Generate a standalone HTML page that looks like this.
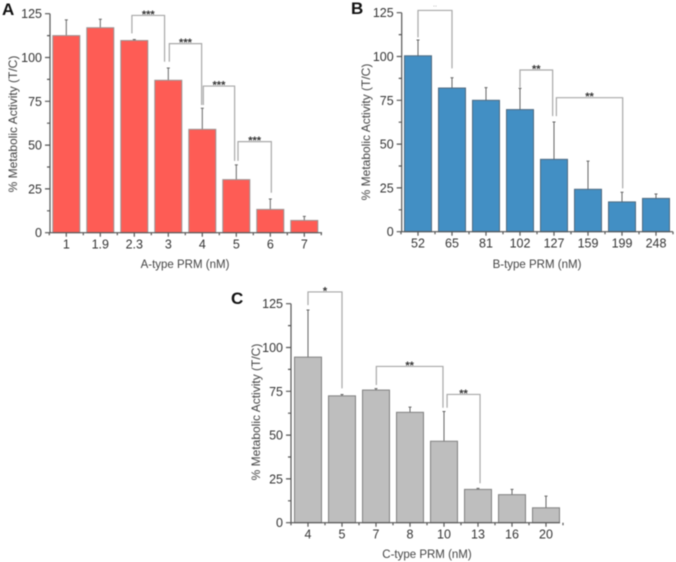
<!DOCTYPE html>
<html>
<head>
<meta charset="utf-8">
<title>Metabolic activity by PRM concentration</title>
<style>
html,body{margin:0;padding:0;background:#fff;width:676px;height:562px;overflow:hidden}
svg{display:block;font-family:"Liberation Sans",sans-serif}
</style>
</head>
<body>
<svg id="figure" width="676" height="562" viewBox="0 0 676 562" xmlns="http://www.w3.org/2000/svg"></svg>
<script>
const aCategories = ['1','1.9','2.3','3','4','5','6','7'];
const aValues = [112.5,117,109.7,87,59,30.3,13.3,7];
const aErrorTops = [121.5,121.8,110.3,94,71,38.7,19.2,9.3];
const aBracketFrom = [1.93,3.03,4.03,5.05];
const aBracketTo = [2.89,3.98,4.95,6.03];
const aBracketTop = [124,107.9,83.7,52];
const aBracketLeftEnd = [113.8,97.6,72.9,41];
const aBracketRightEnd = [97.6,72.9,41,22.8];
const aBracketLabels = ['***','***','***','***'];

const bCategories = ['52','65','81','102','127','159','199','248'];
const bValues = [100.4,82,75,69.7,41.3,24.2,17,19];
const bErrorTops = [109.4,87.9,82.2,81.8,62.6,40.3,22.5,21.5];
const bBracketFrom = [0,3,4.07];
const bBracketTo = [1,3.96,6.02];
const bBracketTop = [126.3,92.3,76.5];
const bBracketLeftEnd = [110.9,82.4,66];
const bBracketRightEnd = [93.2,66,24.7];
const bBracketLabels = ['..','**','**'];

const cCategories = ['4','5','7','8','10','13','16','20'];
const cValues = [94.5,72.4,75.7,63,46.5,19,16,8.5];
const cErrorTops = [121.4,73.2,76.5,66,63.5,19.6,19,15.2];
const cBracketFrom = [0,2.01,4.09];
const cBracketTo = [1,3.97,5.06];
const cBracketTop = [131.7,89.2,73.2];
const cBracketLeftEnd = [124.2,78.6,65.6];
const cBracketRightEnd = [76.7,65.6,22.5];
const cBracketLabels = ['*','**','**'];

const yTicks = [0,25,50,75,100,125];
const yMinorTicks = [12.5,37.5,62.5,87.5,112.5];

const NS = 'http://www.w3.org/2000/svg';
const fig = document.getElementById('figure');

function mk(parent, tag, attrs, text) {
  const el = document.createElementNS(NS, tag);
  for (const k in attrs) el.setAttribute(k, attrs[k]);
  if (text !== undefined) el.textContent = text;
  parent.appendChild(el);
  return el;
}

function drawPanel(p) {
  const g = mk(fig, 'g', {});
  
  
  const sy = v => p.y0 - v * (p.y0 - p.y125) / 125;
  const sx = i => p.x1 + i * 34;

  const letter = mk(g, 'text', {x: p.lx, y: p.ly, 'font-size': 17, 'font-weight': 'bold', fill: '#111'}, p.id);
  
  

  p.values.forEach((v, i) => {
    const top = sy(v);
    const err = mk(g, 'path', {d: `M${sx(i)} ${top}V${sy(p.tops[i])}M${sx(i)-1.5} ${sy(p.tops[i])}H${sx(i)+1.5}`, stroke: '#666', 'stroke-width': 1, fill: 'none'});
    
    
    const bar = mk(g, 'rect', {x: sx(i) - 13.5, y: top, width: 27, height: p.y0 - top, fill: p.color, stroke: p.edge, 'stroke-width': 1});
    
    
    const lab = mk(g, 'text', {x: sx(i), y: p.y0 + 16, 'font-size': 12.5, 'text-anchor': 'middle', fill: '#333'}, p.cats[i]);
    
    
  });

  let ax = `M${p.x0} ${p.y125}V${p.y0}H${p.xEnd}`;
  yTicks.forEach(t => { ax += `M${p.x0-5} ${sy(t)}H${p.x0}`; });
  yMinorTicks.forEach(t => { ax += `M${p.x0-3} ${sy(t)}H${p.x0}`; });
  p.cats.forEach((c, i) => {
    ax += `M${sx(i)} ${p.y0}v4`;
    ax += `M${sx(i)+17} ${p.y0}v2.5`;
  });
  ax += `M${sx(0)-17} ${p.y0}v2.5`;
  const axes = mk(g, 'path', {d: ax, stroke: '#555', 'stroke-width': 1.2, fill: 'none'});
  
  

  yTicks.forEach(t => {
    const lab = mk(g, 'text', {x: p.x0 - 8, y: sy(t) + 4.5, 'font-size': 12.5, 'text-anchor': 'end', fill: '#333'}, String(t));
    
    
  });

  const xt = mk(g, 'text', {x: p.xtx, y: p.xty, 'font-size': 11.5, 'text-anchor': 'middle', fill: '#444'}, p.xTitle);
  
  
  const yt = mk(g, 'text', {x: 0, y: 0, 'font-size': 12, 'text-anchor': 'middle', fill: '#444', transform: `translate(${p.ytx} ${p.yty}) rotate(-90)`}, '% Metabolic Activity (T/C)');
  
  

  p.bFrom.forEach((f, i) => {
    const x1 = sx(f), x2 = sx(p.bTo[i]), t = sy(p.bTop[i]);
    const br = mk(g, 'path', {d: `M${x1} ${sy(p.bLeft[i])}V${t}H${x2}V${sy(p.bRight[i])}`, stroke: '#a8a8a8', 'stroke-width': 1.2, fill: 'none'});
    
    
    const isDots = p.bLabels[i] === '..';
    const st = mk(g, 'text', {x: (x1 + x2) / 2, y: isDots ? t - 4 : t + 2.5, 'font-size': isDots ? 7 : 11, 'font-weight': isDots ? 'normal' : 'bold', 'text-anchor': 'middle', fill: isDots ? '#888' : '#333'}, p.bLabels[i]);
    
    
  });
}

drawPanel({id:'A', cats:aCategories, values:aValues, tops:aErrorTops, color:'#fe5c55', edge:'#9a9494',
  x0:50, xEnd:322, x1:66.3, y0:232.7, y125:13.7, lx:2, ly:15,
  xTitle:'A-type PRM (nM)', xtx:185, xty:268, ytx:17, yty:124,
  bFrom:aBracketFrom, bTo:aBracketTo, bTop:aBracketTop, bLeft:aBracketLeftEnd, bRight:aBracketRightEnd, bLabels:aBracketLabels});

drawPanel({id:'B', cats:bCategories, values:bValues, tops:bErrorTops, color:'#428fc4', edge:'#4f6a80',
  x0:401.7, xEnd:673, x1:418, y0:231.7, y125:12.7, lx:351, ly:14,
  xTitle:'B-type PRM (nM)', xtx:537, xty:268, ytx:370, yty:132,
  bFrom:bBracketFrom, bTo:bBracketTo, bTop:bBracketTop, bLeft:bBracketLeftEnd, bRight:bBracketRightEnd, bLabels:bBracketLabels});

drawPanel({id:'C', cats:cCategories, values:cValues, tops:cErrorTops, color:'#bebebe', edge:'#808080',
  x0:291, xEnd:560, x1:308, y0:522.7, y125:303.7, lx:231, ly:304,
  xTitle:'C-type PRM (nM)', xtx:427, xty:558, ytx:260, yty:412,
  bFrom:cBracketFrom, bTo:cBracketTo, bTop:cBracketTop, bLeft:cBracketLeftEnd, bRight:cBracketRightEnd, bLabels:cBracketLabels});

fig.style.filter = 'blur(0.45px)';
</script>
</body>
</html>
